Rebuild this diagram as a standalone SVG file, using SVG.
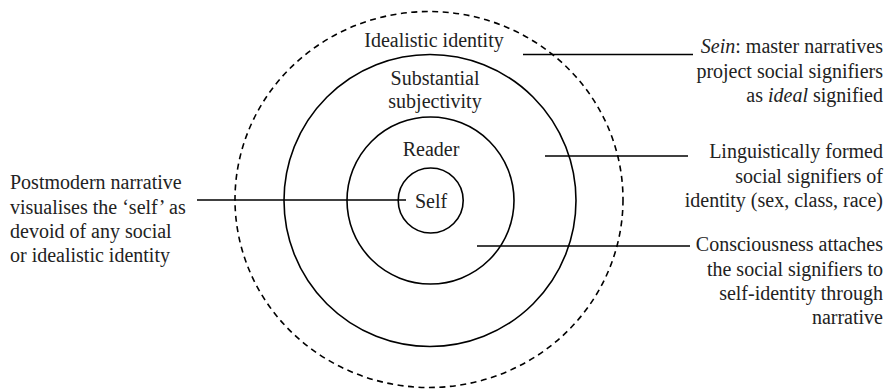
<svg xmlns="http://www.w3.org/2000/svg" width="891" height="389" viewBox="0 0 891 389">
<style>
.c{fill:none;stroke:#000;stroke-width:1.6}
.d{fill:none;stroke:#000;stroke-width:1.6;stroke-dasharray:6 4.5}
.l{stroke:#000;stroke-width:1.5;fill:none}
</style>
<rect width="891" height="389" fill="#fff"/>
<g id="outer-idealistic">
<ellipse class="d" cx="429" cy="199.5" rx="194" ry="188"/>
<text x="434" y="47" font-family="Liberation Serif" font-size="20" fill="#222" text-anchor="middle">Idealistic identity</text>
</g>
<g id="substantial-subjectivity">
<circle class="c" cx="430" cy="200.5" r="146"/>
<text x="435" y="85" font-family="Liberation Serif" font-size="20" fill="#222" text-anchor="middle">Substantial</text>
<text x="435" y="108" font-family="Liberation Serif" font-size="20" fill="#222" text-anchor="middle">subjectivity</text>
</g>
<g id="reader">
<circle class="c" cx="430.5" cy="200.5" r="83.5"/>
<text x="431" y="156" font-family="Liberation Serif" font-size="20" fill="#222" text-anchor="middle">Reader</text>
</g>
<g id="self-node">
<circle class="c" cx="430.7" cy="200.5" r="32.5"/>
<text x="431" y="208" font-family="Liberation Serif" font-size="20" fill="#222" text-anchor="middle">Self</text>
</g>
<g id="connectors">
<line class="l" x1="523" y1="54.5" x2="693" y2="54.5"/>
<line class="l" x1="545" y1="156" x2="688" y2="156"/>
<line class="l" x1="477" y1="246" x2="690" y2="246"/>
<line class="l" x1="197" y1="200" x2="406" y2="200"/>
</g>
<g id="label-sein">
<text x="883" y="53" font-family="Liberation Serif" font-size="20" fill="#222" text-anchor="end"><tspan font-style="italic">Sein</tspan>: master narratives</text>
<text x="883" y="77.5" font-family="Liberation Serif" font-size="20" fill="#222" text-anchor="end">project social signifiers</text>
<text x="883" y="102" font-family="Liberation Serif" font-size="20" fill="#222" text-anchor="end">as <tspan font-style="italic">ideal</tspan> signified</text>
</g>
<g id="label-linguistic">
<text x="883" y="158" font-family="Liberation Serif" font-size="20" fill="#222" text-anchor="end">Linguistically formed</text>
<text x="883" y="182.5" font-family="Liberation Serif" font-size="20" fill="#222" text-anchor="end">social signifiers of</text>
<text x="883" y="207" font-family="Liberation Serif" font-size="20" fill="#222" text-anchor="end">identity (sex, class, race)</text>
</g>
<g id="label-consciousness">
<text x="883" y="251" font-family="Liberation Serif" font-size="20" fill="#222" text-anchor="end">Consciousness attaches</text>
<text x="883" y="275.5" font-family="Liberation Serif" font-size="20" fill="#222" text-anchor="end">the social signifiers to</text>
<text x="883" y="300" font-family="Liberation Serif" font-size="20" fill="#222" text-anchor="end">self-identity through</text>
<text x="883" y="324" font-family="Liberation Serif" font-size="20" fill="#222" text-anchor="end">narrative</text>
</g>
<g id="label-postmodern">
<text x="10" y="189" font-family="Liberation Serif" font-size="20" fill="#222">Postmodern narrative</text>
<text x="10" y="213.5" font-family="Liberation Serif" font-size="20" fill="#222">visualises the ‘self’ as</text>
<text x="10" y="238" font-family="Liberation Serif" font-size="20" fill="#222">devoid of any social</text>
<text x="10" y="262" font-family="Liberation Serif" font-size="20" fill="#222">or idealistic identity</text>
</g>
</svg>
